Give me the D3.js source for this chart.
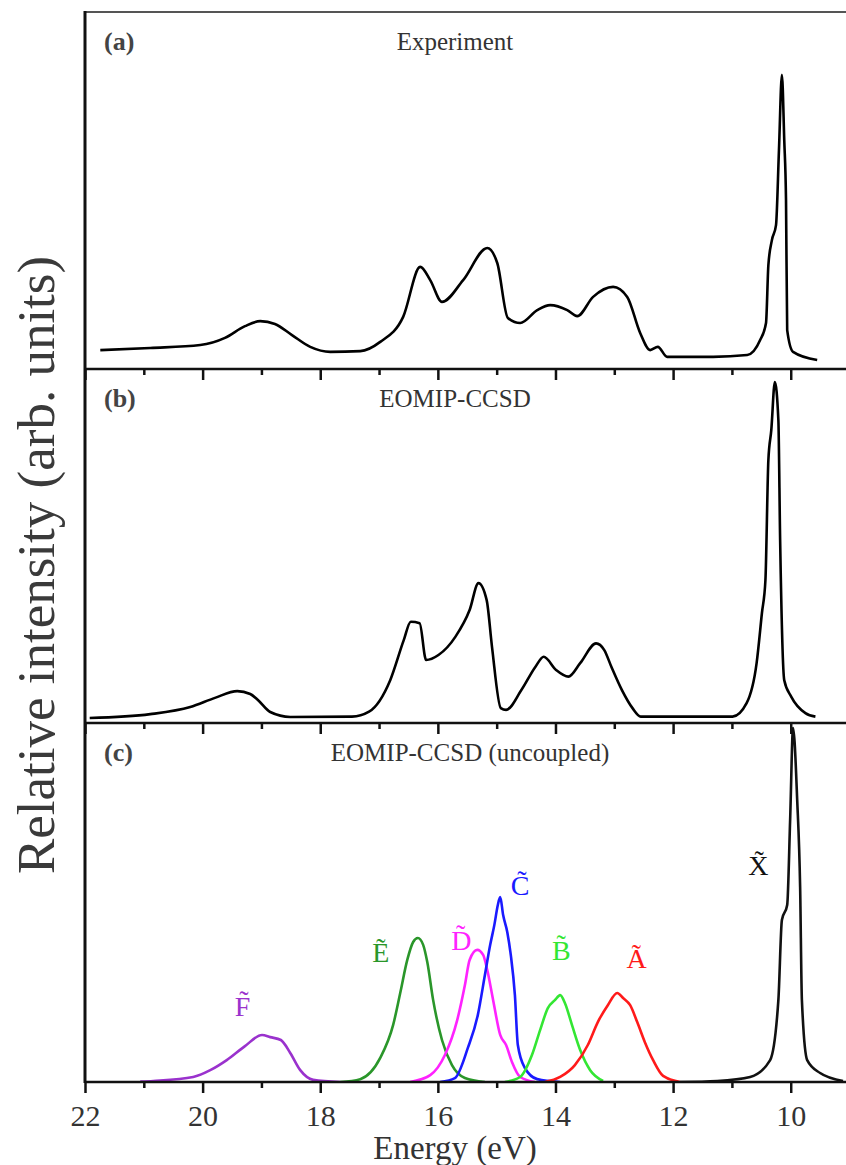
<!DOCTYPE html>
<html lang="en">
<head>
<meta charset="UTF-8">
<title>Photoelectron spectra</title>
<script src="https://d3js.org/d3.v7.min.js"></script>
<style>
  body { margin: 0; background: #fff; }
  svg text { font-family: "Liberation Serif", "Times New Roman", serif; fill: #333; }
  .axis path { stroke: #111; stroke-width: 2.5px; }
  .axis line { stroke: #111; stroke-width: 2.5px; }
  .axis text { font-size: 30px; fill: #333; font-family: "Liberation Serif", serif; }
</style>
</head>
<body>
<svg id="chart" width="846" height="1165"></svg>
<script>
// ---- data (energy in eV, intensity in % of panel height) ----
const majorTicks = [22, 20, 18, 16, 14, 12, 10];
const minorTicks = [21, 19, 17, 15, 13, 11];

const expE = [21.74, 20.89, 20.04, 19.62, 19.28, 19.02, 18.77, 18.48, 18.17, 17.83, 17.32, 16.98, 16.59, 16.30, 16.13, 15.93, 15.57, 15.16, 14.99, 14.81, 14.60, 14.31, 14.09, 13.80, 13.63, 13.36, 13.02, 12.78, 12.56, 12.39, 12.26, 12.10, 11.32, 10.74, 10.52, 10.42, 10.38, 10.32, 10.25, 10.20, 10.15, 10.11, 10.08, 10.06, 9.96, 9.55];
const expI = [5.3, 5.9, 6.7, 8.7, 12.0, 13.4, 12.6, 9.5, 6.2, 4.8, 5.0, 7.6, 14.6, 28.6, 24.9, 18.8, 24.9, 33.9, 29.7, 14.3, 12.9, 16.5, 17.9, 16.5, 14.8, 20.2, 23.0, 20.2, 10.1, 5.3, 6.2, 3.4, 3.4, 3.9, 8.1, 12.9, 29.1, 36.1, 40.3, 61.3, 82.4, 64.1, 47.3, 10.9, 4.8, 2.5];

const ccsdE = [21.92, 20.89, 20.21, 19.79, 19.41, 19.19, 19.06, 18.85, 18.51, 17.46, 17.17, 16.81, 16.58, 16.46, 16.31, 16.20, 15.99, 15.70, 15.46, 15.31, 15.17, 15.08, 14.93, 14.84, 14.58, 14.34, 14.20, 13.99, 13.78, 13.58, 13.31, 13.17, 13.05, 12.87, 12.69, 12.55, 10.99, 10.75, 10.58, 10.49, 10.43, 10.38, 10.33, 10.27, 10.21, 10.18, 10.11, 9.99, 9.75, 9.58];
const ccsdI = [1.4, 2.5, 4.5, 7.1, 9.0, 8.2, 6.5, 3.1, 1.7, 1.8, 3.2, 12.1, 23.4, 28.6, 28.2, 17.8, 19.2, 24.4, 31.9, 39.5, 34.7, 21.6, 4.2, 3.7, 9.3, 15.9, 18.7, 15.0, 13.1, 16.9, 22.5, 20.6, 15.9, 9.3, 4.2, 1.8, 1.8, 5.6, 16.9, 31.0, 40.4, 74.3, 82.8, 96.3, 85.6, 51.7, 12.1, 7.4, 2.8, 1.8];

// uncoupled states
const stateF_E = [21.06, 20.84, 20.16, 19.87, 19.59, 19.28, 18.99, 18.85, 18.67, 18.51, 18.34, 18.12, 17.66];
const stateF_I = [0.1, 0.3, 1.4, 3.3, 6.1, 10.0, 13.1, 12.5, 11.7, 8.1, 3.3, 0.6, 0];
const stateE_E = [17.66, 17.32, 16.98, 16.76, 16.64, 16.52, 16.42, 16.34, 16.25, 16.18, 16.08, 15.93, 15.76, 15.54, 15.20];
const stateE_I = [0, 0.8, 6.7, 15.9, 24.8, 34.0, 39.0, 40.1, 38.2, 33.4, 22.8, 11.7, 4.7, 1.1, 0];
const stateD_E = [16.47, 16.13, 15.88, 15.67, 15.54, 15.46, 15.33, 15.23, 15.16, 15.06, 14.94, 14.84, 14.74, 14.60, 14.35];
const stateD_I = [0, 1.9, 7.5, 17.3, 27.0, 34.0, 36.8, 35.4, 31.2, 22.8, 13.1, 10.3, 5.6, 1.4, 0];
const stateC_E = [15.96, 15.71, 15.49, 15.32, 15.20, 15.11, 15.04, 14.98, 14.94, 14.89, 14.82, 14.76, 14.69, 14.64, 14.52, 14.31, 13.92];
const stateC_I = [0, 1.1, 9.5, 18.7, 29.8, 38.2, 43.7, 49.3, 51.5, 46.5, 41.8, 35.4, 24.2, 10.3, 3.9, 0.8, 0];
const stateB_E = [14.86, 14.60, 14.40, 14.26, 14.13, 14.01, 13.92, 13.84, 13.72, 13.58, 13.41, 13.19];
const stateB_I = [0, 1.4, 7.5, 14.5, 20.6, 22.8, 24.2, 22.0, 15.9, 8.9, 3.3, 0.3];
const stateA_E = [14.18, 13.92, 13.67, 13.45, 13.28, 13.11, 12.95, 12.85, 12.73, 12.61, 12.48, 12.34, 12.17, 11.88];
const stateA_I = [0, 1.4, 4.7, 10.3, 16.7, 21.4, 24.8, 23.4, 21.4, 16.7, 11.1, 6.1, 1.7, 0];
const stateX_E = [11.88, 11.25, 10.69, 10.35, 10.21, 10.15, 10.06, 10.01, 9.96, 9.89, 9.84, 9.81, 9.72, 9.50, 9.11];
const stateX_I = [0, 0.3, 1.4, 6.1, 22.8, 45.1, 49.3, 73.0, 98.6, 78.6, 54.3, 22.8, 6.1, 2.5, 0.3];

const stateNames = ["F", "E", "D", "C", "B", "A", "X"];
const stateColors = ["#9a32cd", "#2a962a", "#ff22ff", "#1a1aff", "#33e633", "#ff1a1a", "#111111"];
const stateEnergies = [stateF_E, stateE_E, stateD_E, stateC_E, stateB_E, stateA_E, stateX_E];
const stateIntensities = [stateF_I, stateE_I, stateD_I, stateC_I, stateB_I, stateA_I, stateX_I];
// label anchor: energy and intensity of letter baseline
const labelE = [19.32, 16.97, 15.6, 14.6, 13.9, 12.62, 10.55];
const labelI = [18.4, 33.4, 36.8, 52.0, 34.0, 31.8, 57.6];

const panelTitles = ["Experiment", "EOMIP-CCSD", "EOMIP-CCSD (uncoupled)"];
const panelTags = ["(a)", "(b)", "(c)"];

// ---- layout ----
const svg = d3.select("#chart");
const left = 85, right = 846;
const panelTop = [12, 369, 723];
const panelBottom = [369, 723, 1082];

const x = d3.scaleLinear().domain([22, 9.06]).range([left, right]);
const yScales = panelTop.map((t, i) => d3.scaleLinear().domain([0, 100]).range([panelBottom[i], t]));

svg.append("defs").append("clipPath").attr("id", "plotclip")
  .append("rect").attr("x", left).attr("y", 12).attr("width", right - left).attr("height", 1082 - 12);

const lineFor = (y) => d3.line().x(d => x(d[0])).y(d => y(d[1])).curve(d3.curveMonotoneX);
const zip = (a, b) => a.map((v, i) => [v, b[i]]);

const plot = svg.append("g").attr("clip-path", "url(#plotclip)");

// panel (a)
plot.append("path").datum(zip(expE, expI))
  .attr("d", lineFor(yScales[0]))
  .attr("fill", "none").attr("stroke", "#000").attr("stroke-width", 2.6);

// panel (b)
plot.append("path").datum(zip(ccsdE, ccsdI))
  .attr("d", lineFor(yScales[1]))
  .attr("fill", "none").attr("stroke", "#000").attr("stroke-width", 2.6);

// panel (c)
stateNames.forEach((s, i) => {
  plot.append("path").datum(zip(stateEnergies[i], stateIntensities[i]))
    .attr("d", lineFor(yScales[2]))
    .attr("fill", "none").attr("stroke", stateColors[i]).attr("stroke-width", 2.6);
  svg.append("text")
    .attr("x", x(labelE[i])).attr("y", yScales[2](labelI[i]))
    .attr("text-anchor", "middle")
    .style("font-size", "28px")
    .style("fill", stateColors[i])
    .text(s + "\u0303");
});

// frame
svg.append("line").attr("x1", left).attr("x2", right).attr("y1", 12).attr("y2", 12)
  .attr("stroke", "#555").attr("stroke-width", 2);
svg.append("line").attr("x1", left).attr("x2", left).attr("y1", 11).attr("y2", 1083)
  .attr("stroke", "#111").attr("stroke-width", 3);

// axes with ticks at each panel bottom
panelBottom.forEach((b, i) => {
  const major = d3.axisBottom(x).tickValues(majorTicks).tickSize(11).tickPadding(12)
    .tickFormat(i === 2 ? d3.format("d") : () => "");
  const g = svg.append("g").attr("class", "axis").attr("transform", `translate(0,${b})`).call(major);
  g.select(".domain").attr("d", `M${left},0H${right}`);
  const minor = d3.axisBottom(x).tickValues(minorTicks).tickSize(6).tickFormat(() => "");
  const gm = svg.append("g").attr("class", "axis").attr("transform", `translate(0,${b})`).call(minor);
  gm.select(".domain").remove();
});

// panel titles and tags
panelTitles.forEach((t, i) => {
  svg.append("text").attr("x", 455 + (i === 2 ? 15 : 0)).attr("y", panelTop[i] + 38)
    .attr("text-anchor", "middle").style("font-size", "25px").text(t);
  svg.append("text").attr("x", 104).attr("y", panelTop[i] + 38)
    .style("font-size", "26px").style("font-weight", "bold").style("fill", "#444").text(panelTags[i]);
});

// axis titles
svg.append("text").attr("x", 455).attr("y", 1159).attr("text-anchor", "middle")
  .style("font-size", "33px").text("Energy (eV)");
svg.append("text").attr("transform", "translate(54,565) rotate(-90)").attr("text-anchor", "middle")
  .style("font-size", "53px").style("fill", "#3a3a3a").text("Relative intensity (arb. units)");
</script>
</body>
</html>
